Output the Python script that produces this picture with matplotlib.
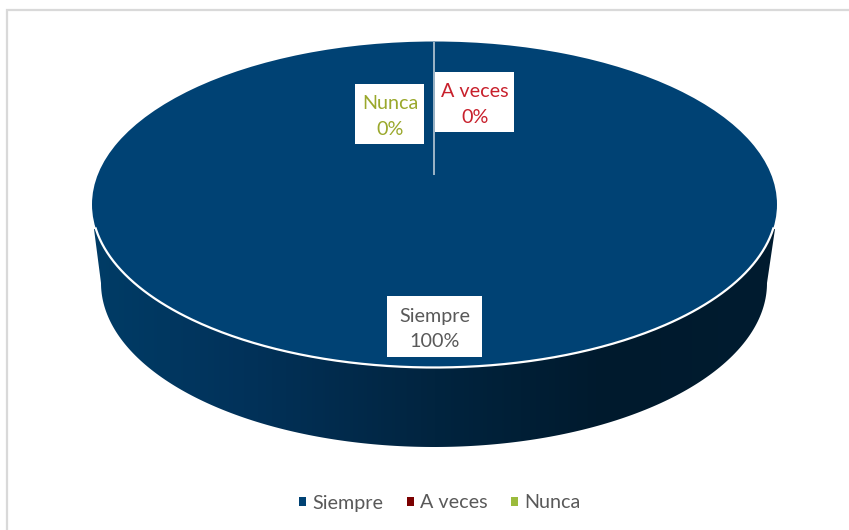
import matplotlib
matplotlib.use('Agg')
import matplotlib.pyplot as plt
import numpy as np
from matplotlib.colors import LinearSegmentedColormap
from matplotlib.patches import Polygon, Rectangle

plt.rcParams['font.family'] = ['Lato', 'DejaVu Sans']

categories = ['Siempre', 'A veces', 'Nunca']
values = [100, 0, 0]
colors = ['#004274', '#7b0000', '#9bbb3c']
label_colors = ['#595959', '#c8202c', '#9aa82c']

W, H = 849, 530
CX, CY, RX, RY = 434.5, 204.5, 342.5, 163.0  # tapa de la torta, en pixeles


def px(x, y):
    # pixeles de la imagen -> unidades de la torta
    return (np.asarray(x) - CX) / RX, (CY - np.asarray(y)) / RY


fig = plt.figure(figsize=(W / 100, H / 100), dpi=100)
ax = fig.add_axes([0, 0, 1, 1])

# torta
wedges, _ = ax.pie(values, colors=colors, startangle=90, counterclock=False,
                   wedgeprops={'linewidth': 0, 'zorder': 3})
ax.set_aspect('auto')

# costado con degradado
t = np.linspace(np.pi, 2 * np.pi, 200)
low_x = 434 + 333 * np.cos(t)
low_y = 283 - 164 * np.sin(t)
side_x = np.concatenate([[94], low_x, [775]])
side_y = np.concatenate([[229], low_y, [229]])
cmap = LinearSegmentedColormap.from_list('side', [
    (0.0, '#003c66'), (0.22, '#02325a'), (0.5, '#01243f'),
    (0.75, '#001a2d'), (1.0, '#001c30')])
x0, y0 = px(92, 450)
x1, y1 = px(777, 200)
img = ax.imshow(np.linspace(0, 1, 400).reshape(1, -1), cmap=cmap, aspect='auto',
                extent=(x0, x1, y0, y1), zorder=2)
sx, sy = px(side_x, side_y)
clip = Polygon(np.column_stack([sx, sy]), closed=True, transform=ax.transData)
img.set_clip_path(clip)

# borde blanco de la tapa
d = np.arcsin(24 / 163)
a = np.linspace(d, np.pi - d, 300)
ax.plot(np.cos(a), -np.sin(a), color='white', lw=1.6, zorder=4)

# linea de las porciones de 0%
lx, ly = px([434, 434], [41.5, 175])
ax.plot(lx, ly, color='#a9bdcd', lw=1.3, zorder=4, solid_capstyle='butt')

# etiquetas
boxes = [(387, 296, 482, 357), (434.5, 72, 514, 132), (355, 84, 424, 144)]
for name, val, col, (l, b_top, r, b_bot) in zip(categories, values, label_colors, boxes):
    xa, ya = px(l, b_bot)
    xb, yb = px(r, b_top)
    ax.add_patch(Rectangle((xa, ya), xb - xa, yb - ya, facecolor='white',
                           edgecolor='none', zorder=5))
    tx, ty = px((l + r) / 2 + 0.5, (b_top + b_bot) / 2 + 2.5)
    ax.text(tx, ty, '%s\n%d%%' % (name, val), color=col,
            fontsize=14.2, ha='center', va='center', linespacing=1.6, zorder=6)

# marco gris
fx, fy = px([7, 7, W], [H, 10, 10])
ax.plot(fx, fy, color='#d9d9d9', lw=1.6, zorder=1, solid_joinstyle='miter')

ax.set_xlim(px(0, 0)[0], px(W, 0)[0])
ax.set_ylim(px(0, H)[1], px(0, 0)[1])
ax.axis('off')

fig.legend(wedges, categories, loc='center', bbox_to_anchor=(440 / W, 1 - 503 / H),
           ncol=3, frameon=False, fontsize=14.2, labelcolor='#595959',
           handlelength=0.36, handleheight=0.36, handletextpad=0.3, columnspacing=1.2)

fig.savefig('out.png', dpi=100)
